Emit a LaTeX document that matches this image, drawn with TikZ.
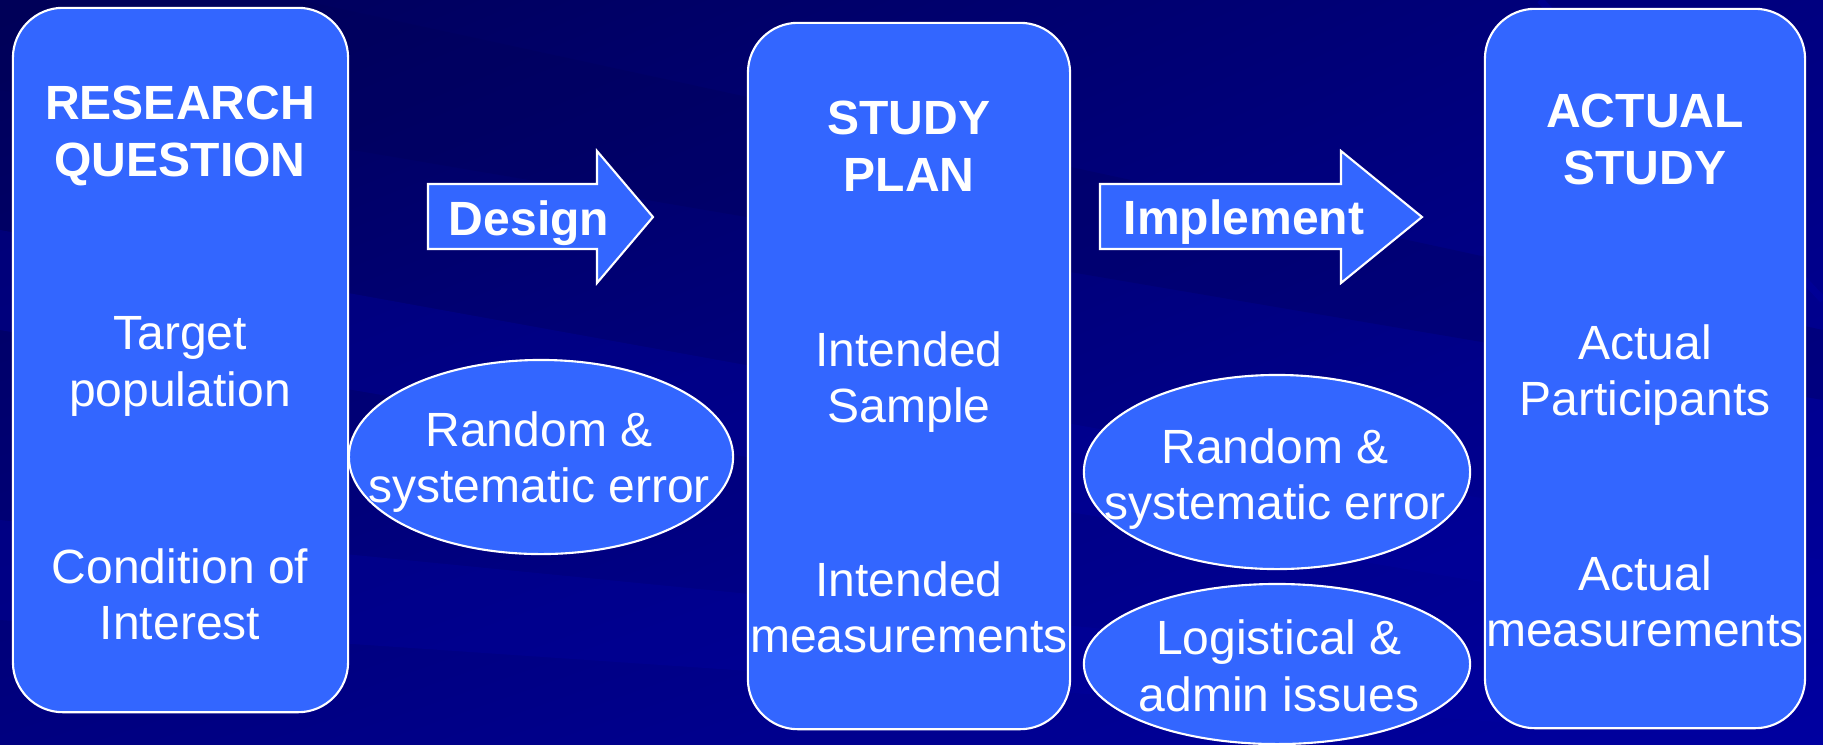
\documentclass[tikz,border=0pt]{standalone}
\usepackage{fontspec}
\setmainfont{Liberation Sans}
\usepackage{tikz}
\usetikzlibrary{shapes.geometric,shadings}
\usetikzlibrary{positioning}

\definecolor{bgdark}{RGB}{0,0,88}
\definecolor{bgmid}{RGB}{0,0,128}
\definecolor{bglight}{RGB}{0,0,160}
\definecolor{boxblue}{RGB}{51,102,255}

\begin{document}
\begin{tikzpicture}[x=0.01cm,y=-0.01cm,
	stage/.style={rectangle, rounded corners=0.5cm, draw=white, line width=0.6pt, fill=boxblue, inner sep=0pt},
	errell/.style={ellipse, draw=white, line width=0.6pt, fill=boxblue, inner sep=0pt},
	blockarrow/.style={draw=white, line width=0.6pt, fill=boxblue, line join=miter},
	txt/.style={text=white, align=center, inner sep=0pt, anchor=north, font=\fontsize{13.66}{16.2}\selectfont},
	ttl/.style={txt, font=\fontsize{13.66}{16.2}\selectfont\bfseries},
	arrtxt/.style={text=white, inner sep=0pt, anchor=base, font=\fontsize{13.66}{16.2}\selectfont\bfseries}]
	
	% background
	\useasboundingbox (0,0) rectangle (1823,744);
	\shade[upper left=bgdark, upper right=bgmid, lower left=bgmid, lower right=bglight] (0,0) rectangle (1823,744);
	\fill[bglight, opacity=0.35] (0,230) -- (1823,560) -- (1823,640) -- (0,330) -- cycle;
	\fill[bglight, opacity=0.35] (0,520) -- (1823,700) -- (1823,744) -- (0,620) -- cycle;
	\fill[bgdark, opacity=0.3] (300,0) -- (1823,330) -- (1823,400) -- (0,90) -- (0,0) -- cycle;
	\draw[bglight, opacity=0.5, line width=2pt] (1540,0) -- (1823,300);
	
	% the three stages
	\node[stage, minimum width=3.35cm, minimum height=7.04cm] (rq) at (180.5,360) {};
	\node[stage, minimum width=3.22cm, minimum height=7.06cm] (plan) at (909,376) {};
	\node[stage, minimum width=3.20cm, minimum height=7.19cm] (actual) at (1645,368.5) {};
	
	\node[ttl] (rqtitle) at (180,85.5) {RESEARCH\\QUESTION};
	\node[txt] (target) at (180,315.5) {Target\\population};
	\node[txt] (cond) at (180,547.5) {Condition of\\Interest};
	
	\node[ttl] (plantitle) at (909,100.5) {STUDY\\PLAN};
	\node[txt] (intsample) at (909,330.5) {Intended\\Sample};
	\node[txt] (intmeas) at (909,560.5) {Intended\\measurements};
	
	\node[ttl] (acttitle) at (1645,93.5) {ACTUAL\\STUDY};
	\node[txt] (actpart) at (1645,323.5) {Actual\\Participants};
	\node[txt] (actmeas) at (1645,554.5) {Actual\\measurements};
	
	% block arrows
	\draw[blockarrow] (428,184) -- (597,184) -- (597,151) -- (653,217) -- (597,283) -- (597,249) -- (428,249) -- cycle;
	\node[arrtxt] (design) at (529,235) {Design};
	
	\draw[blockarrow] (1100,184) -- (1341,184) -- (1341,151) -- (1422,217) -- (1341,283) -- (1341,249) -- (1100,249) -- cycle;
	\node[arrtxt] (implement) at (1244,234) {Implement};
	
	% error ellipses
	\node[errell, minimum width=3.84cm, minimum height=1.94cm] (err1) at (541,457) {};
	\node[txt] (err1txt) at (539,410.5) {Random \&\\systematic error};
	
	\node[errell, minimum width=3.86cm, minimum height=1.94cm] (err2) at (1277,472) {};
	\node[txt] (err2txt) at (1275,427.5) {Random \&\\systematic error};
	
	\node[errell, minimum width=3.86cm, minimum height=1.60cm] (err3) at (1277,664) {};
	\node[txt] (err3txt) at (1279,618.5) {Logistical \&\\admin issues};
	
\end{tikzpicture}
\end{document}
